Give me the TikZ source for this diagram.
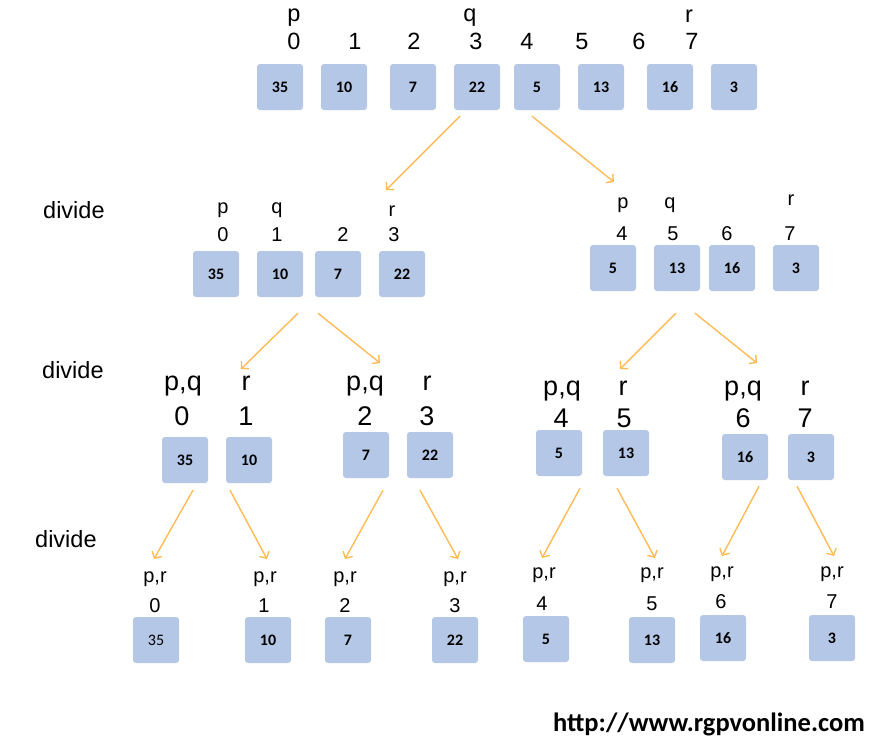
\documentclass[tikz,border=0pt]{standalone}
\usepackage{fontspec}
\setmainfont{Liberation Sans}
\newfontfamily\cellfont{Carlito}
\usetikzlibrary{arrows.meta}
\definecolor{cellblue}{RGB}{180,199,231}
\definecolor{arrorange}{RGB}{255,187,85}
\begin{document}
\begin{tikzpicture}[x=1pt,y=-1pt,
    cell/.style={fill=cellblue,rounded corners=3pt,minimum size=46pt,inner sep=0pt,
      font=\cellfont\bfseries\fontsize{16}{16}\selectfont},
    plaincell/.style={cell,font=\cellfont\fontsize{16}{16}\selectfont},
    lblA/.style={anchor=base,inner sep=0pt,font=\fontsize{23.5}{23.5}\selectfont},
    lblB/.style={anchor=base,inner sep=0pt,font=\fontsize{20}{20}\selectfont},
    lblC/.style={anchor=base,inner sep=0pt,font=\fontsize{27}{27}\selectfont},
    divlbl/.style={anchor=base west,inner sep=0pt,font=\fontsize{23.5}{23.5}\selectfont},
    arr/.style={draw=arrorange,line width=1.4pt,-{Straight Barb[length=5pt,width=11pt]}}]
  \useasboundingbox (0,0) rectangle (890,744);
  % level 0
  \draw
    (294,21) node[lblA] (pa){p}
    (470,21) node[lblA] (qa){q}
    (689,22) node[lblA] (ra){r}
    (294,49) node[lblA] (ia0){0}
    (355,49) node[lblA] (ia1){1}
    (414,49) node[lblA] (ia2){2}
    (476,49) node[lblA] (ia3){3}
    (527,49) node[lblA] (ia4){4}
    (582,49) node[lblA] (ia5){5}
    (639,49) node[lblA] (ia6){6}
    (692,49) node[lblA] (ia7){7}
    (280,87) node[cell] (a0){35}
    (344,87) node[cell] (a1){10}
    (413,87) node[cell] (a2){7}
    (477,87) node[cell] (a3){22}
    (537,87) node[cell] (a4){5}
    (601,87) node[cell] (a5){13}
    (670,87) node[cell] (a6){16}
    (734,87) node[cell] (a7){3};
  % level 1
  \draw
    (43,218) node[divlbl] (d1){divide}
    (223,213) node[lblB] (pb0){p}
    (277,213) node[lblB] (qb0){q}
    (392,216) node[lblB] (rb0){r}
    (223,241) node[lblB] (ib0){0}
    (277,241) node[lblB] (ib1){1}
    (343,241) node[lblB] (ib2){2}
    (394,241) node[lblB] (ib3){3}
    (216,274) node[cell] (b0){35}
    (280,274) node[cell] (b1){10}
    (338,274) node[cell] (b2){7}
    (402,274) node[cell] (b3){22}
    (623,208) node[lblB] (pb4){p}
    (670,208) node[lblB] (qb4){q}
    (791,205) node[lblB] (rb4){r}
    (622,240) node[lblB] (ib4){4}
    (673,240) node[lblB] (ib5){5}
    (727,240) node[lblB] (ib6){6}
    (790,240) node[lblB] (ib7){7}
    (613,268) node[cell] (b4){5}
    (677,268) node[cell] (b5){13}
    (732,268) node[cell] (b6){16}
    (796,268) node[cell] (b7){3};
  % level 2
  \draw
    (42,378) node[divlbl] (d2){divide}
    (183,390) node[lblC] (pc0){p,q}
    (246,390) node[lblC] (rc0){r}
    (365,390) node[lblC] (pc2){p,q}
    (427,390) node[lblC] (rc2){r}
    (562,395) node[lblC] (pc4){p,q}
    (623,395) node[lblC] (rc4){r}
    (743,395) node[lblC] (pc6){p,q}
    (805,395) node[lblC] (rc6){r}
    (182,425) node[lblC] (ic0){0}
    (246,425) node[lblC] (ic1){1}
    (365,425) node[lblC] (ic2){2}
    (427,425) node[lblC] (ic3){3}
    (561,427) node[lblC] (ic4){4}
    (624,427) node[lblC] (ic5){5}
    (743,427) node[lblC] (ic6){6}
    (805,427) node[lblC] (ic7){7}
    (185,460) node[cell] (c0){35}
    (249,460) node[cell] (c1){10}
    (366,455) node[cell] (c2){7}
    (430,455) node[cell] (c3){22}
    (559,453) node[cell] (c4){5}
    (626,453) node[cell] (c5){13}
    (745,457) node[cell] (c6){16}
    (811,457) node[cell] (c7){3};
  % level 3
  \draw
    (35,547) node[divlbl] (d3){divide}
    (155,582) node[lblB] (pd0){p,r}
    (265,582) node[lblB] (pd1){p,r}
    (345,582) node[lblB] (pd2){p,r}
    (455,582) node[lblB] (pd3){p,r}
    (544,578) node[lblB] (pd4){p,r}
    (652,578) node[lblB] (pd5){p,r}
    (722,577) node[lblB] (pd6){p,r}
    (832,577) node[lblB] (pd7){p,r}
    (155,612) node[lblB] (id0){0}
    (264,612) node[lblB] (id1){1}
    (345,612) node[lblB] (id2){2}
    (455,612) node[lblB] (id3){3}
    (542,610) node[lblB] (id4){4}
    (652,610) node[lblB] (id5){5}
    (721,608) node[lblB] (id6){6}
    (832,608) node[lblB] (id7){7}
    (156,640) node[plaincell] (e0){35}
    (268,640) node[cell] (e1){10}
    (348,640) node[cell] (e2){7}
    (455,640) node[cell] (e3){22}
    (546,639) node[cell] (e4){5}
    (652,640) node[cell] (e5){13}
    (723,638) node[cell] (e6){16}
    (832,638) node[cell] (e7){3};
  \node[anchor=base east,inner sep=0pt,font=\cellfont\bfseries\fontsize{26.5}{26.5}\selectfont]
    (url) at (865,731) {http://www.rgpvonline.com};
  % arrow ends
  \coordinate (ta0) at (386,190);
  \coordinate (ta1) at (614,182);
  \coordinate (tb0) at (241,369);
  \coordinate (tb1) at (380,363);
  \coordinate (tb2) at (620,369);
  \coordinate (tb3) at (757,363);
  \coordinate (tc0) at (154,559);
  \coordinate (tc1) at (267,559);
  \coordinate (tc2) at (345,559);
  \coordinate (tc3) at (458,559);
  \coordinate (tc4) at (542,558);
  \coordinate (tc5) at (655,558);
  \coordinate (tc6) at (722,556);
  \coordinate (tc7) at (834,556);
  \begin{scope}[arr]
    \draw ([shift={(-17,6)}]a3.south) -- (ta0);
    \draw ([shift={(55,6)}]a3.south) -- (ta1);
    \draw ([shift={(18,16)}]b1.south) -- (tb0);
    \draw ([shift={(38,16)}]b1.south) -- (tb1);
    \draw ([shift={(63,22)}]b4.south) -- (tb2);
    \draw ([shift={(82,22)}]b4.south) -- (tb3);
    \draw ([shift={(8,7)}]c0.south) -- (tc0);
    \draw ([shift={(-19,7)}]c1.south) -- (tc1);
    \draw ([shift={(17,12)}]c2.south) -- (tc2);
    \draw ([shift={(-10,12)}]c3.south) -- (tc3);
    \draw ([shift={(21,12)}]c4.south) -- (tc4);
    \draw ([shift={(-9,12)}]c5.south) -- (tc5);
    \draw ([shift={(14,6)}]c6.south) -- (tc6);
    \draw ([shift={(-14,6)}]c7.south) -- (tc7);
  \end{scope}
\end{tikzpicture}
\end{document}
